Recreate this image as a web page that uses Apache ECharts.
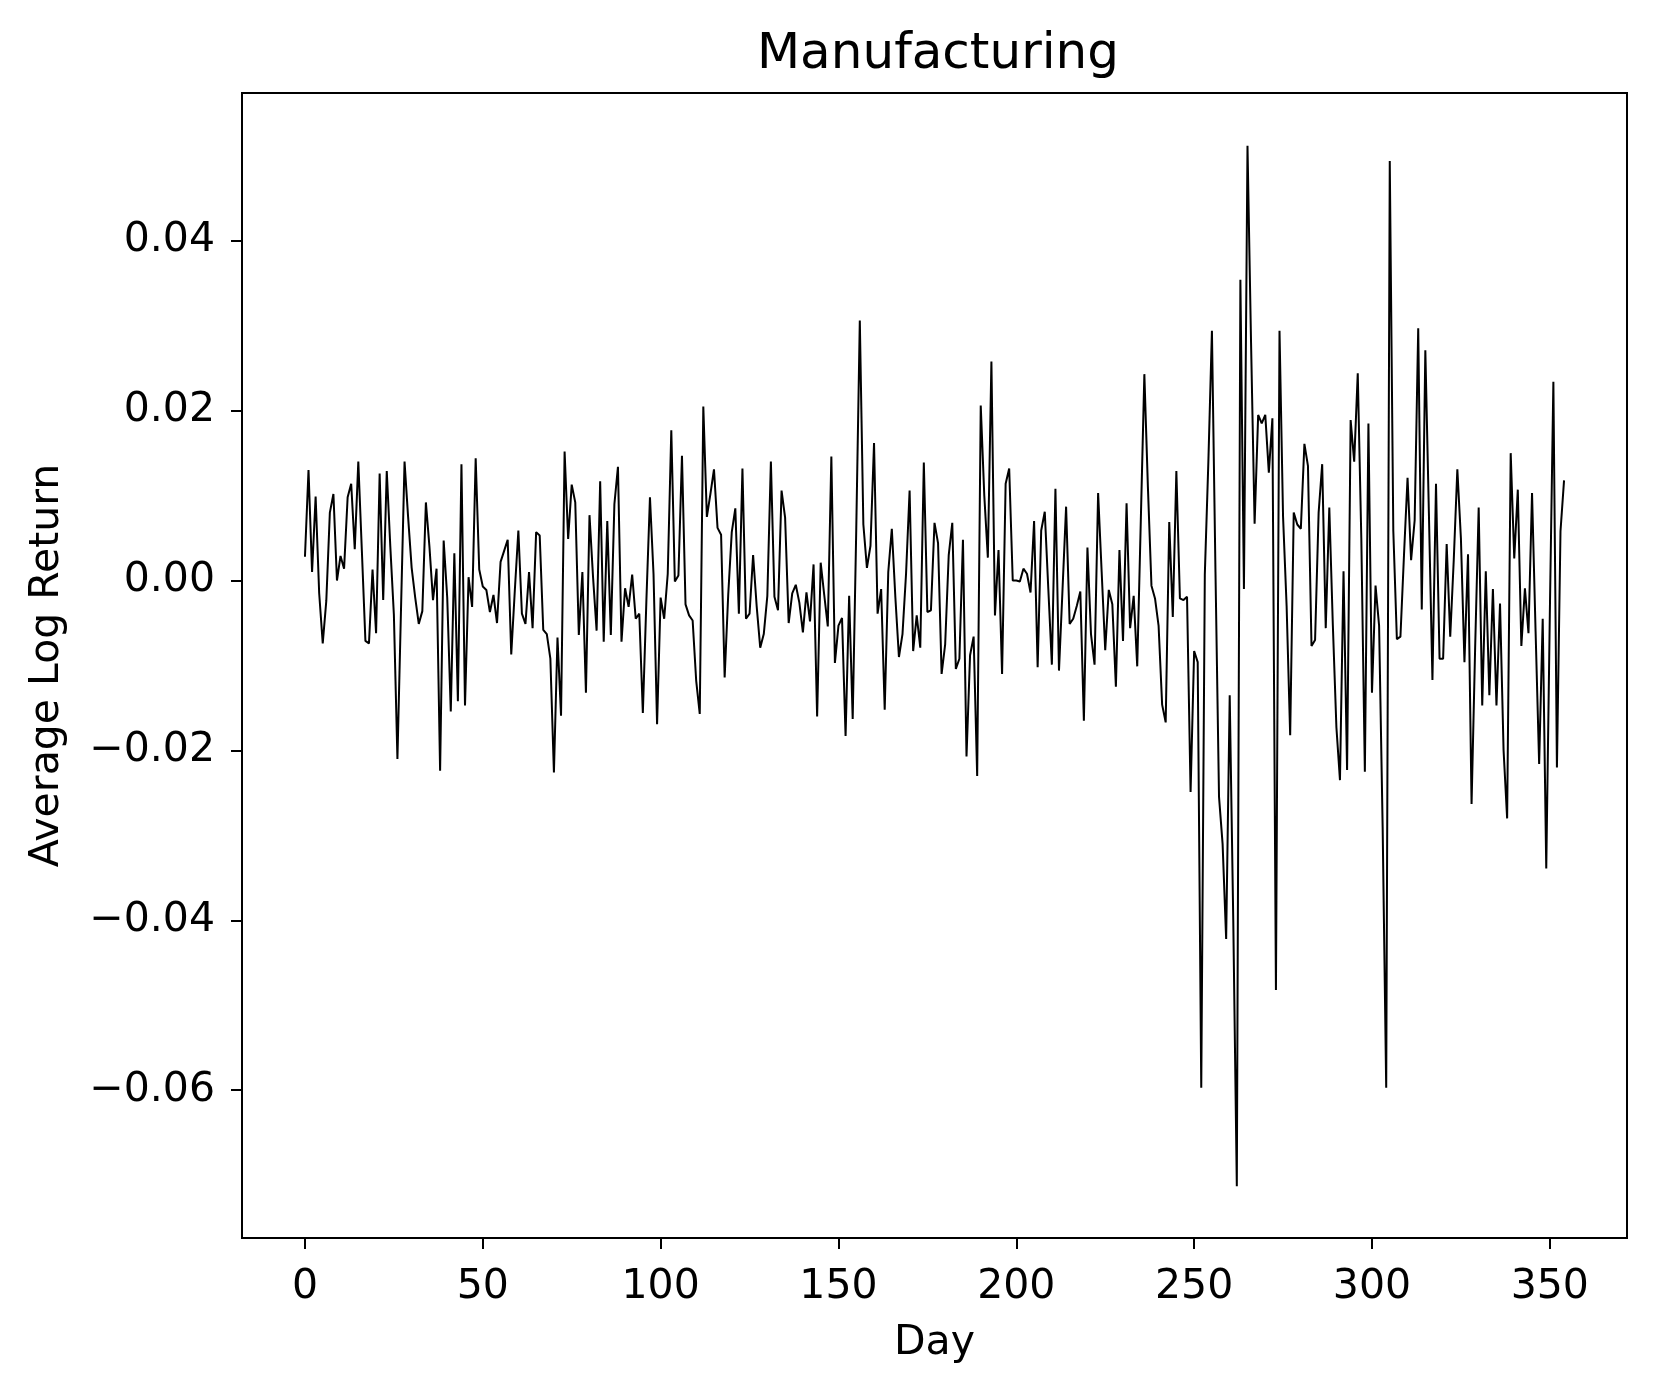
<!DOCTYPE html>
<html>
<head>
<meta charset="utf-8">
<script src="https://cdn.jsdelivr.net/npm/echarts@6/dist/echarts.min.js"></script>
<style>
html,body{margin:0;padding:0;background:#fff}
#chart{width:1659px;height:1396px}
</style>
</head>
<body>
<div id="chart"></div>
<script>
// values, one per day (0..354)
var avgLogReturn = [
 0.0028, 0.0130, 0.0010, 0.0099,-0.0015,-0.0074,-0.0024, 0.0080, 0.0102, 0.0000,
 0.0029, 0.0014, 0.0098, 0.0114, 0.0037, 0.0140, 0.0035,-0.0071,-0.0074, 0.0013,
-0.0062, 0.0126,-0.0023, 0.0129, 0.0040,-0.0040,-0.0210,-0.0035, 0.0140, 0.0075,
 0.0015,-0.0020,-0.0051,-0.0036, 0.0092, 0.0040,-0.0023,
 0.0014,-0.0224, 0.0047,-0.0020,-0.0154, 0.0032,-0.0142, 0.0137,-0.0147, 0.0004,
-0.0031, 0.0144, 0.0013,-0.0007,-0.0011,-0.0037,-0.0017,-0.0050, 0.0022, 0.0035,
 0.0048,-0.0087,-0.0012, 0.0059,-0.0039,-0.0051, 0.0010,-0.0056, 0.0057, 0.0053,
-0.0058,-0.0063,-0.0092,-0.0226,-0.0067,-0.0159, 0.0152, 0.0049, 0.0113, 0.0092,
-0.0064, 0.0010,-0.0132, 0.0077, 0.0004,-0.0059, 0.0117,-0.0072, 0.0070,-0.0064,
 0.0090, 0.0134,-0.0072,-0.0009,-0.0031, 0.0007,-0.0045,-0.0039,-0.0156,-0.0023,
 0.0098, 0.0008,-0.0169,-0.0020,-0.0045, 0.0008, 0.0177,-0.0001, 0.0006, 0.0147,
-0.0028,-0.0041,-0.0047,-0.0118,-0.0157, 0.0205, 0.0075, 0.0102, 0.0131, 0.0062,
 0.0054,-0.0114,-0.0017,
 0.0057, 0.0085,-0.0039, 0.0132,-0.0045,-0.0039, 0.0030,-0.0030,
-0.0079,-0.0063,-0.0018, 0.0140,-0.0019,-0.0035, 0.0106, 0.0074,-0.0050,-0.0015,
-0.0005,-0.0026,-0.0061,-0.0014,-0.0048, 0.0019,-0.0160, 0.0021,-0.0017,-0.0054,
 0.0146,-0.0097,-0.0053,-0.0044,-0.0183,-0.0018,-0.0163, 0.0060, 0.0306, 0.0066,
 0.0015, 0.0041, 0.0162,-0.0039,-0.0010,-0.0152, 0.0010, 0.0061,-0.0020,-0.0090,
-0.0063, 0.0008, 0.0106,-0.0083,-0.0041,-0.0079, 0.0139,-0.0037,-0.0035, 0.0068,
 0.0044,-0.0110,-0.0075, 0.0030, 0.0068,-0.0104,-0.0092, 0.0048,-0.0207,-0.0088,
-0.0066,-0.0230, 0.0206, 0.0100, 0.0027, 0.0258,
-0.0041, 0.0036,-0.0110, 0.0114, 0.0132, 0.0000, 0.0000,-0.0001, 0.0014, 0.0008,
-0.0014, 0.0070,-0.0102, 0.0059, 0.0081,-0.0010,-0.0099, 0.0108,-0.0106,-0.0010,
 0.0087,-0.0051,-0.0045,-0.0030,-0.0013,-0.0165, 0.0039,-0.0063,-0.0099, 0.0103,
 0.0010,-0.0082,-0.0011,-0.0028,-0.0125, 0.0036,-0.0071, 0.0091,-0.0056,-0.0018,
-0.0101, 0.0070, 0.0243,
 0.0110,-0.0006,-0.0021,-0.0053,-0.0146,-0.0167, 0.0069,-0.0043, 0.0129,-0.0021,
-0.0023,-0.0019,-0.0249,-0.0083,-0.0096,-0.0597, 0.0007, 0.0140, 0.0294, 0.0010,
-0.0255,-0.0310,-0.0422,-0.0135,-0.0400,-0.0713, 0.0354,-0.0010, 0.0512, 0.0280,
 0.0067, 0.0195, 0.0185, 0.0195, 0.0127, 0.0191,-0.0482, 0.0294, 0.0075,-0.0030,
-0.0182, 0.0080, 0.0066, 0.0061, 0.0161, 0.0135,-0.0077,-0.0070, 0.0080, 0.0137,
-0.0056, 0.0086,-0.0053,-0.0173,-0.0235, 0.0011,-0.0223, 0.0189, 0.0140, 0.0244,
 0.0050,-0.0225, 0.0185,-0.0132,-0.0006,-0.0053,-0.0290,-0.0597, 0.0494, 0.0058,
-0.0069,-0.0066, 0.0030, 0.0121, 0.0024, 0.0071, 0.0297,-0.0034, 0.0271, 0.0080,
-0.0117, 0.0114,-0.0092,-0.0092, 0.0043,-0.0066, 0.0025, 0.0131, 0.0050,-0.0096,
 0.0031,-0.0263,-0.0080, 0.0086,-0.0147, 0.0011,-0.0135,-0.0010,-0.0147,-0.0027,
-0.0200,-0.0280, 0.0150, 0.0026, 0.0107,-0.0077,-0.0009,-0.0062, 0.0103,-0.0060,
-0.0216,-0.0045,-0.0339,-0.0040, 0.0234,-0.0220, 0.0058, 0.0118
];
var dayTicks = [0, 50, 100, 150, 200, 250, 300, 350];
var returnTicks = [-0.06, -0.04, -0.02, 0.00, 0.02, 0.04];

var chart = echarts.init(document.getElementById('chart'));
var points = [];
for (var i = 0; i < avgLogReturn.length; i++) {
	points.push([i, avgLogReturn[i]]);
}
var font = 'DejaVu Sans';
var option = {
	animation: false,
	backgroundColor: '#fff',
	title: {
		text: 'Manufacturing',
		left: 933, top: 25, textAlign: 'center',
		textStyle: {fontFamily: font, fontSize: 50, fontWeight: 'normal', color: '#000'}
	},
	grid: {left: 242, top: 93, width: 1385, height: 1145, show: true, borderColor: '#000', borderWidth: 2},
	xAxis: {
		type: 'value', min: -17.7, max: 371.7,
		name: 'Day', nameLocation: 'middle', nameGap: 85,
		nameTextStyle: {fontFamily: font, fontSize: 41, color: '#000'},
		axisLine: {show: true, onZero: false, lineStyle: {color: '#000', width: 2}},
		axisTick: {show: true, length: 11, lineStyle: {color: '#000', width: 2}, customValues: dayTicks},
		axisLabel: {margin: 29, fontFamily: font, fontSize: 41, color: '#000', customValues: dayTicks},
		splitLine: {show: false}
	},
	yAxis: {
		type: 'value', min: -0.0774, max: 0.0574,
		name: 'Average Log Return', nameLocation: 'middle', nameRotate: 90, nameGap: 174,
		nameTextStyle: {fontFamily: font, fontSize: 41, color: '#000'},
		axisLine: {show: true, onZero: false, lineStyle: {color: '#000', width: 2}},
		axisTick: {show: true, length: 11, lineStyle: {color: '#000', width: 2}, customValues: returnTicks},
		axisLabel: {
			margin: 27, fontFamily: font, fontSize: 41, color: '#000', customValues: returnTicks,
			formatter: function (v) {
				return (v < -1e-9 ? '\u2212' : '') + Math.abs(v).toFixed(2);
			}
		},
		splitLine: {show: false}
	},
	series: [{
		name: 'Average Log Return',
		type: 'line',
		data: points,
		showSymbol: false,
		lineStyle: {color: '#000', width: 2},
		silent: true
	}]
};
chart.setOption(option);
</script>
</body>
</html>
